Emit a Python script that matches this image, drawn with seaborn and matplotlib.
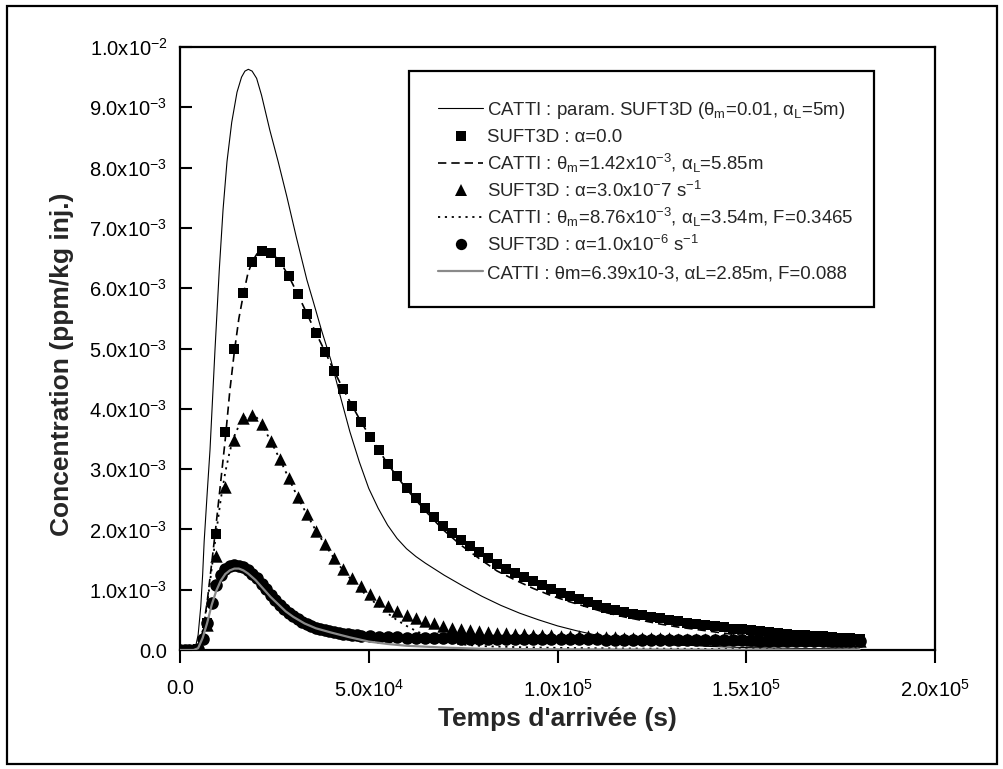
import numpy as np
import matplotlib
matplotlib.use("Agg")
import matplotlib.pyplot as plt
import seaborn as sns
from matplotlib.patches import Rectangle
from matplotlib.lines import Line2D

sns.set_theme(style="white")
plt.rcParams["font.family"] = ["Liberation Sans", "DejaVu Sans"]
plt.rcParams["mathtext.fontset"] = "custom"
plt.rcParams["mathtext.rm"] = "Liberation Sans"
plt.rcParams["mathtext.it"] = "Liberation Sans:italic"
plt.rcParams["mathtext.bf"] = "Liberation Sans:bold"

# ---------------- data (concentrations in units of 1e-3 ppm/kg inj.) ----------------
# SUFT3D outputs sampled every 2400 s from 0 to 180000 s
t_suft = np.arange(0, 180001, 2400)
sq_alpha0 = [0, 0, 0.02, 0.45,
             1.93, 3.62, 5.00, 5.92, 6.43, 6.61, 6.59,
             6.44, 6.20, 5.90, 5.58, 5.26, 4.95, 4.63, 4.33, 4.05, 3.78,
             3.54, 3.31, 3.08, 2.89, 2.69, 2.52, 2.36, 2.21, 2.06, 1.94,
             1.83, 1.73, 1.62, 1.52, 1.43, 1.35, 1.28, 1.21, 1.14, 1.07,
             1.01, 0.95, 0.89, 0.84, 0.79, 0.75, 0.70, 0.67, 0.63, 0.60,
             0.575, 0.55, 0.525, 0.50, 0.48, 0.455, 0.435, 0.415, 0.395, 0.375,
             0.355, 0.34, 0.325, 0.31, 0.295, 0.28, 0.27, 0.255, 0.245, 0.235,
             0.225, 0.215, 0.205, 0.195, 0.185]
tri_alpha3e7 = [0, 0, 0.02, 0.42,
                1.56, 2.70, 3.49, 3.84, 3.90, 3.75, 3.47,
                3.17, 2.85, 2.53, 2.26, 1.98, 1.76, 1.53, 1.35, 1.20, 1.06,
                0.93, 0.81, 0.73, 0.65, 0.58, 0.53, 0.48, 0.44, 0.40, 0.37,
                0.35, 0.33, 0.315, 0.30, 0.29, 0.28, 0.27, 0.26, 0.255, 0.25,
                0.245, 0.24, 0.235, 0.23, 0.225, 0.22, 0.215, 0.21, 0.205, 0.20,
                0.198, 0.196, 0.194, 0.192, 0.19, 0.188, 0.186, 0.184, 0.182, 0.18,
                0.178, 0.176, 0.174, 0.172, 0.17, 0.168, 0.166, 0.164, 0.162, 0.16,
                0.158, 0.156, 0.154, 0.152, 0.15]

# SUFT3D alpha=1e-6 : 1200 s steps up to 46800 s, then 2400 s steps
t_circ = np.concatenate([np.arange(0, 48000, 1200), np.arange(48000, 180001, 2400)])
circ_alpha1e6 = [0, 0, 0, 0, 0.01, 0.18, 0.45, 0.78, 1.08, 1.25,
                 1.34, 1.39, 1.41, 1.40, 1.37, 1.32, 1.26, 1.19, 1.10, 1.01,
                 0.92, 0.83, 0.75, 0.68, 0.62, 0.56, 0.51, 0.47, 0.43, 0.40,
                 0.37, 0.35, 0.33, 0.31, 0.30, 0.28, 0.27, 0.26, 0.25, 0.245,
                 0.24, 0.23, 0.22, 0.215, 0.21, 0.205, 0.20, 0.198, 0.196, 0.194,
                 0.192, 0.19, 0.189, 0.188, 0.187, 0.186, 0.185, 0.184, 0.183, 0.182,
                 0.181, 0.18, 0.179, 0.178, 0.177, 0.176, 0.175, 0.174, 0.173, 0.172,
                 0.171, 0.17, 0.169, 0.168, 0.167, 0.166, 0.165, 0.164, 0.163, 0.162,
                 0.161, 0.16, 0.159, 0.158, 0.157, 0.156, 0.155, 0.154, 0.153, 0.152,
                 0.151, 0.15, 0.149, 0.148, 0.147, 0.146]

# CATTI : param. SUFT3D
t_thin = [0, 3000, 4000, 4800, 5500, 6000, 6400, 7200, 7950, 9270, 10400, 11400, 12450,
          13700, 15100, 16300, 17200, 18100, 19100, 20300, 21600, 23800, 26000, 28300,
          30800, 33600, 35200, 37500, 40000, 42500, 45000, 47500, 50000, 52500, 55000,
          57500, 60000, 62500, 65000, 70000, 75000, 80000, 85000, 90000, 95000,
          100000, 105000, 110000, 115000, 120000, 130000, 140000, 150000, 165000, 180000]
c_thin = [0, 0, 0.02, 0.25, 0.72, 1.25, 1.8, 2.6, 3.32, 4.98, 6.3, 7.3, 8.1,
          8.75, 9.25, 9.5, 9.6, 9.63, 9.6, 9.48, 9.2, 8.62, 8.1, 7.52,
          6.85, 6.14, 5.8, 5.3, 4.8, 4.2, 3.62, 3.12, 2.68, 2.35, 2.07,
          1.85, 1.68, 1.55, 1.44, 1.24, 1.06, 0.89, 0.74, 0.61, 0.50,
          0.40, 0.32, 0.25, 0.19, 0.15, 0.095, 0.06, 0.04, 0.025, 0.015]

# CATTI : theta_m = 1.42e-3, alpha_L = 5.85 m
t_dash = [0, 3600, 4800, 6000, 7200, 8400, 9600, 10800, 12000, 13200, 14400, 15600,
          16800, 18000, 19200, 20400, 21600, 22800, 24000, 26400, 28800, 31200, 33600,
          36000, 38400, 40800, 43200, 45600, 48000, 50400, 52800, 55200, 57600, 60000,
          64800, 69600, 74400, 79200, 84000, 88800, 93600, 98400, 103200, 108000,
          112800, 117600, 122400, 127200, 132000, 136800, 141600, 146400, 151200,
          156000, 160800, 165600, 170400, 175200, 180000]
c_dash = [0, 0, 0.05, 0.3, 0.8, 1.44, 2.1, 2.8, 3.5, 4.3, 4.95, 5.5,
          5.9, 6.25, 6.45, 6.57, 6.62, 6.63, 6.6, 6.45, 6.2, 5.9, 5.58,
          5.26, 4.95, 4.63, 4.33, 4.05, 3.78, 3.53, 3.3, 3.07, 2.87, 2.67,
          2.32, 2.0, 1.74, 1.52, 1.31, 1.16, 1.02, 0.9, 0.8, 0.71,
          0.62, 0.55, 0.49, 0.43, 0.38, 0.34, 0.30, 0.26, 0.23,
          0.21, 0.19, 0.17, 0.15, 0.14, 0.12]

# CATTI : theta_m = 8.76e-3, alpha_L = 3.54 m, F = 0.3465
t_dot = [0, 3600, 4800, 6000, 7200, 8400, 9600, 10800, 12000, 13200, 14400, 15600,
         16800, 18000, 19200, 20400, 21600, 24000, 26400, 28800, 31200, 33600, 36000,
         38400, 40800, 43200, 45600, 48000, 50400, 52800, 55200, 57600, 60000, 62400,
         64800, 67200, 69600, 72000, 76800, 81600, 91200, 100800, 110400, 120000,
         140000, 160000, 180000]
c_dot = [0, 0, 0.05, 0.3, 0.75, 1.35, 1.95, 2.5, 2.95, 3.3, 3.55, 3.72,
         3.83, 3.89, 3.9, 3.85, 3.75, 3.47, 3.17, 2.85, 2.53, 2.25, 1.98,
         1.75, 1.52, 1.32, 1.15, 0.99, 0.85, 0.72, 0.6, 0.49, 0.4, 0.32,
         0.25, 0.19, 0.14, 0.11, 0.08, 0.06, 0.045, 0.035, 0.03, 0.025,
         0.018, 0.012, 0.008]

# CATTI : theta_m = 6.39e-3, alpha_L = 2.85 m, F = 0.088
t_gray = [0, 3600, 4800, 6000, 7200, 8400, 9600, 10800, 12000, 13200, 14400, 15600,
          16800, 18000, 20000, 22000, 24000, 26000, 28000, 30000, 33000, 36000, 40000,
          45000, 50000, 55000, 60000, 70000, 80000, 100000, 140000, 180000]
c_gray = [0, 0, 0.03, 0.2, 0.45, 0.75, 0.98, 1.15, 1.26, 1.32, 1.35, 1.35,
          1.32, 1.27, 1.16, 1.02, 0.88, 0.76, 0.64, 0.55, 0.44, 0.36, 0.29,
          0.21, 0.14, 0.10, 0.07, 0.04, 0.02, 0.01, 0.005, 0.002]

labels = [
    "CATTI : param. SUFT3D (θ$_{\\mathregular{m}}$=0.01, α$_{\\mathregular{L}}$=5m)",
    "SUFT3D : α=0.0",
    "CATTI : θ$_{\\mathregular{m}}$=1.42x10$^{\\mathregular{-3}}$, α$_{\\mathregular{L}}$=5.85m",
    "SUFT3D : α=3.0x10$^{\\mathregular{-}}$7 s$^{\\mathregular{-1}}$",
    "CATTI : θ$_{\\mathregular{m}}$=8.76x10$^{\\mathregular{-3}}$, α$_{\\mathregular{L}}$=3.54m, F=0.3465",
    "SUFT3D : α=1.0x10$^{\\mathregular{-6}}$ s$^{\\mathregular{-1}}$",
    "CATTI : θm=6.39x10-3, αL=2.85m, F=0.088",
]
y_ticks = [0.0, 1.0, 2.0, 3.0, 4.0, 5.0, 6.0, 7.0, 8.0, 9.0, 10.0]
x_ticks = [0, 50000, 100000, 150000, 200000]

SCALE = 1e-3

# ---------------- figure ----------------
W, H = 1004, 769
fig = plt.figure(figsize=(W / 100, H / 100), dpi=100)
fig.patch.set_facecolor("white")

def fx(px):
    return px / W

def fy(py):
    return 1 - py / H

ax = fig.add_axes([fx(180), fy(650), (935 - 180) / W, (650 - 47) / H])
ax.set_facecolor("white")

GRAY = "#8a8a8a"
lw_thin = 0.8
S_SQ, S_TRI, S_CIRC = 58, 80, 82

sns.lineplot(x=t_thin, y=np.array(c_thin) * SCALE, ax=ax, color="black",
             lw=lw_thin, estimator=None, sort=False, zorder=3)
sns.scatterplot(x=t_suft, y=np.array(sq_alpha0) * SCALE, ax=ax, marker="s",
                s=S_SQ, color="black", edgecolor="black", linewidth=0, zorder=4)
sns.lineplot(x=t_dash, y=np.array(c_dash) * SCALE, ax=ax, color="black", lw=1.2,
             dashes=False, linestyle=(0, (5, 3)), estimator=None, sort=False, zorder=5)
sns.scatterplot(x=t_suft, y=np.array(tri_alpha3e7) * SCALE, ax=ax, marker="^",
                s=S_TRI, color="black", edgecolor="black", linewidth=0, zorder=4)
sns.lineplot(x=t_dot, y=np.array(c_dot) * SCALE, ax=ax, color="black", lw=1.3,
             dashes=False, linestyle=(0, (1.2, 2.6)), estimator=None, sort=False, zorder=5)
sns.scatterplot(x=t_circ, y=np.array(circ_alpha1e6) * SCALE, ax=ax, marker="o",
                s=S_CIRC, color="black", edgecolor="black", linewidth=0, zorder=4)
sns.lineplot(x=t_gray, y=np.array(c_gray) * SCALE, ax=ax, color=GRAY, lw=1.6,
             estimator=None, sort=False, zorder=6)

ax.set_xlim(0, 200000)
ax.set_ylim(0, 0.0100)
ax.set_xlabel("")
ax.set_ylabel("")
if ax.get_legend() is not None:
    ax.get_legend().remove()


def sci_label(v):
    if v == 0:
        return "0.0"
    e = int(np.floor(np.log10(abs(v)) + 1e-9))
    m = v / 10 ** e
    return "%.1fx10$^{\\mathregular{%d}}$" % (m, e)


ax.set_yticks([v * SCALE for v in y_ticks])
ax.set_yticklabels([sci_label(v * SCALE) for v in y_ticks])
ax.set_xticks(x_ticks)
ax.set_xticklabels([sci_label(v) for v in x_ticks])

for sp in ax.spines.values():
    sp.set_visible(True)
    sp.set_color("black")
    sp.set_linewidth(1.6)

ax.tick_params(axis="y", direction="in", length=8.5, width=1.5, pad=9,
               labelsize=14.5, colors="black", left=True)
ax.tick_params(axis="x", direction="out", length=9, width=1.5, pad=12,
               labelsize=14.5, colors="black", bottom=True)
ax.grid(False)

# axis titles
fig.text(fx(62), fy(364), "Concentration (ppm/kg inj.)", rotation=90,
         ha="center", va="center", fontsize=19, fontweight="bold")
fig.text(fx(557), fy(719), "Temps d'arrivée (s)", ha="center", va="center",
         fontsize=19, fontweight="bold")

# legend box
fig.add_artist(Rectangle((fx(409), fy(307)), (874 - 409) / W, (307 - 71) / H,
                         transform=fig.transFigure, facecolor="white",
                         edgecolor="black", linewidth=1.6, zorder=10))

styles = [
    dict(kind="line", color="black", lw=lw_thin, ls="-"),
    dict(kind="marker", marker="s", ms=np.sqrt(S_SQ)),
    dict(kind="line", color="black", lw=1.2, ls=(0, (5, 3))),
    dict(kind="marker", marker="^", ms=np.sqrt(S_TRI)),
    dict(kind="line", color="black", lw=1.3, ls=(0, (1.2, 2.6))),
    dict(kind="marker", marker="o", ms=np.sqrt(S_CIRC) * 0.9),
    dict(kind="line", color=GRAY, lw=1.6, ls="-"),
]
row0 = 108.3
dy = 27.2
for i, (lab, st) in enumerate(zip(labels, styles)):
    yc = row0 + i * dy
    if st["kind"] == "line":
        fig.add_artist(Line2D([fx(438), fx(483)], [fy(yc), fy(yc)],
                              transform=fig.transFigure, color=st["color"],
                              lw=st["lw"], linestyle=st["ls"], zorder=11))
    else:
        fig.add_artist(Line2D([fx(461)], [fy(yc)], transform=fig.transFigure,
                              marker=st["marker"], ms=st["ms"], color="black",
                              mec="black", mew=0, linestyle="none", zorder=11))
    fig.text(fx(487), fy(yc + 7.0), lab, ha="left", va="baseline",
             fontsize=13.4, zorder=12)

# outer frame
fig.add_artist(Rectangle((fx(6.5), fy(764)), (997 - 6.5) / W, (764 - 5.5) / H,
                         transform=fig.transFigure, facecolor="none",
                         edgecolor="black", linewidth=1.6, zorder=20))

fig.savefig("out.png", dpi=100, facecolor="white")
